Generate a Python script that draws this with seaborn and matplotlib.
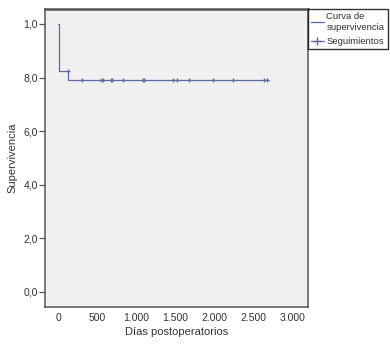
import matplotlib
matplotlib.use("Agg")
import matplotlib.pyplot as plt
from matplotlib.lines import Line2D
import seaborn as sns
import pandas as pd

# Kaplan-Meier curve (days, survival)
curve_days = [0, 9, 9, 128, 128, 2690]
curve_surv = [1.0, 1.0, 0.826, 0.826, 0.79, 0.79]

# censored follow-ups
censor_days = [128, 307, 543, 576, 675, 691, 825, 1081, 1097, 1465,
               1516, 1665, 1972, 2233, 2634, 2668]
censor_surv = [0.826] + [0.79] * 15

y_ticks = [0.0, 0.2, 0.4, 0.6, 0.8, 1.0]
y_labels = ["0,0", "2,0", "4,0", "6,0", "8,0", "1,0"]
x_ticks = [0, 500, 1000, 1500, 2000, 2500, 3000]
x_labels = ["0", "500", "1.000", "1.500", "2.000", "2.500", "3.000"]

line_color = "#5b6aa3"
spine_color = "#555555"

sns.set_style("white")
plt.rcParams["font.family"] = ["Liberation Sans", "DejaVu Sans"]

fig = plt.figure(figsize=(3.9, 3.47), dpi=100)
ax = fig.add_axes([0.1154, 0.1153, 0.675, 0.859])
ax.set_facecolor("#f0f0f0")

curve = pd.DataFrame({"days": curve_days, "surv": curve_surv})
cens = pd.DataFrame({"days": censor_days, "surv": censor_surv})

ax.plot(curve["days"], curve["surv"], color=line_color, lw=0.9)
sns.scatterplot(data=cens, x="days", y="surv", marker="+", s=10,
                color=line_color, linewidth=0.9, ax=ax, legend=False)

ax.set_xlim(-170, 3196)
ax.set_ylim(-0.056, 1.056)
ax.set_xticks(x_ticks)
ax.set_xticklabels(x_labels)
ax.set_yticks(y_ticks)
ax.set_yticklabels(y_labels)
ax.tick_params(axis="x", length=0, pad=4.5, labelsize=7.5, colors="#333333")
ax.tick_params(axis="y", length=4.3, width=0.9, pad=1, labelsize=7.5,
               colors="#333333", color=spine_color, left=True)

for side in ["left", "bottom", "top", "right"]:
    ax.spines[side].set_visible(True)
    ax.spines[side].set_color(spine_color)
    ax.spines[side].set_linewidth(1.1)
ax.spines["top"].set_linewidth(1.8)

ax.set_xlabel("Días postoperatorios", fontsize=8, color="#333333", labelpad=3)
ax.set_ylabel("Supervivencia", fontsize=8, color="#333333", labelpad=4)

handles = [
    Line2D([], [], color=line_color, lw=0.9),
    Line2D([], [], color=line_color, lw=0.9, marker="+", markersize=6),
]
leg = fig.legend(handles, ["Curva de\nsupervivencia", "Seguimientos"],
                 loc="upper left", bbox_to_anchor=(308 / 390, 1 - 9 / 347),
                 fontsize=6.8, frameon=True, fancybox=False,
                 handlelength=1.3, handletextpad=0.3, borderpad=0.35,
                 labelspacing=0.55, borderaxespad=0)
leg.get_frame().set_edgecolor("black")
leg.get_frame().set_linewidth(1.0)
for t in leg.get_texts():
    t.set_color("#333333")

fig.savefig("out.png", dpi=100)
